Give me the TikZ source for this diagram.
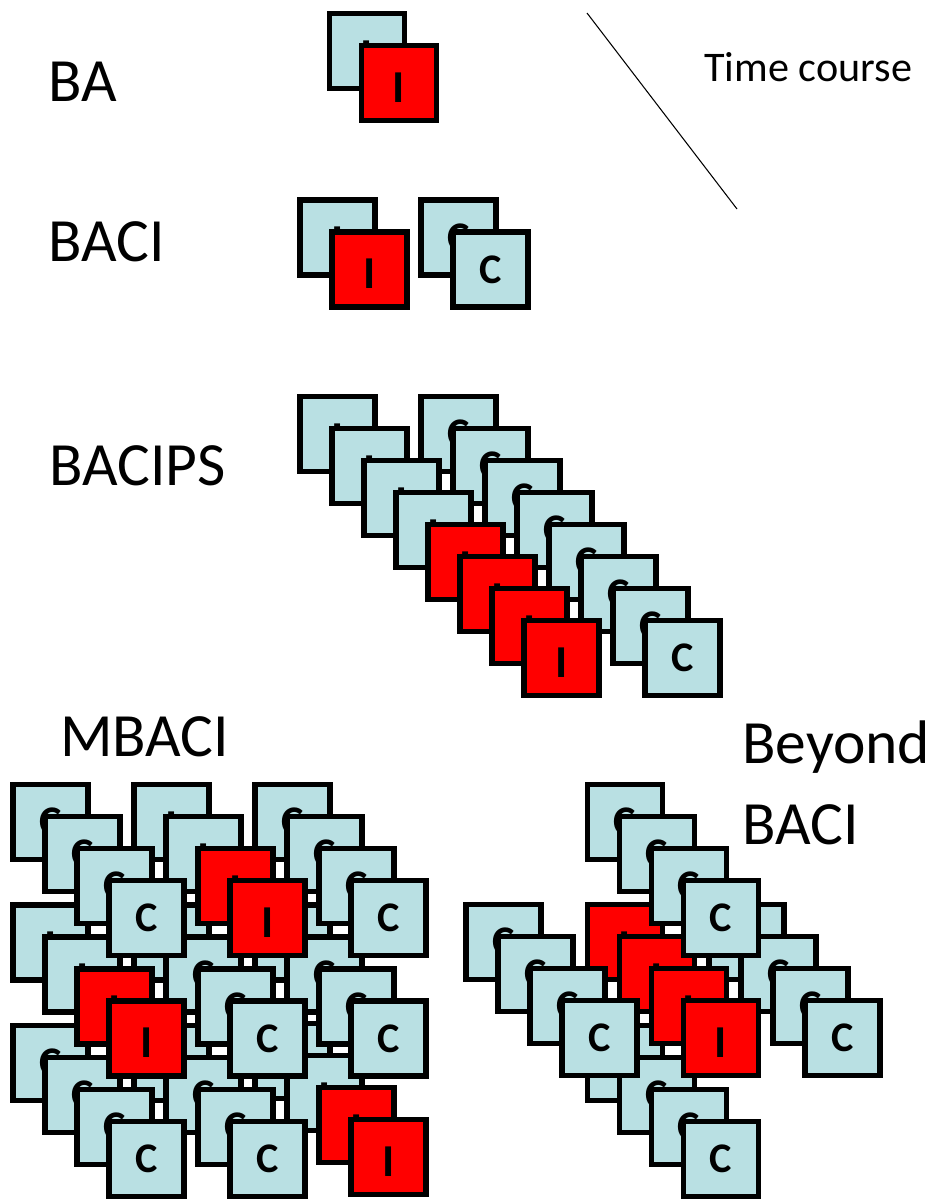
\documentclass[tikz,border=0pt]{standalone}
\usepackage{fontspec}
\setmainfont{Carlito}
\usetikzlibrary{calc}

\definecolor{siteblue}{RGB}{185,224,227}
\definecolor{impred}{RGB}{255,0,0}

\tikzset{
  site/.style={draw, line width=3pt, minimum size=1.5cm, inner sep=0pt, lab #1},
  lab C/.style={font=\fontsize{24}{24}\selectfont\bfseries},
  lab I/.style={font=\fontsize{26}{26}\selectfont\bfseries, text height=22pt, text depth=0pt},
  title/.style={anchor=base west, inner sep=0pt, font=\fontsize{35}{46}\selectfont},
}

% one stack of sites: name, centre of first square, squares, squares before impact, letter
\newcommand{\sitestack}[6]{%
  \foreach \k in {1,...,#4}{
    \ifnum\k>#5 \def\sitefill{impred}\else\def\sitefill{siteblue}\fi
    \node[site=#6, fill=\sitefill] (#1\k) at (#2+32*\k-32, #3+32*\k-32) {#6};
  }}

\begin{document}
\begin{tikzpicture}[x=0.02cm, y=-0.02cm]
\useasboundingbox (0,0) rectangle (933,1203);

\node[title] (ba) at (48,101.7) {BA};
\node[title] (baci) at (48,261) {BACI};
\node[title] (bacips) at (49,485) {BACIPS};
\node[title] (mbaci) at (60,756.7) {MBACI};
\node[title, align=left] (beyond) at (742,844) {Beyond\\BACI};
\node[anchor=base west, inner sep=0pt, font=\fontsize{24}{28}\selectfont] (time) at (704,81.5) {Time course};

%time axis
\coordinate (t0) at (587,13);
\coordinate (t1) at (737,209);
\draw[line width=0.6pt] (t0) -- (t1);

%BA
\sitestack{ba}{367}{51}{2}{1}{I}

%BACI
\sitestack{baci-c}{458.5}{237.5}{2}{2}{C}
\sitestack{baci-i}{337.5}{237.5}{2}{1}{I}

%BACIPS
\sitestack{bacips-c}{458.5}{434}{8}{8}{C}
\sitestack{bacips-i}{337.5}{434}{8}{4}{I}

%MBACI, back row first
\sitestack{m33-}{292.5}{1061}{4}{2}{I}
\sitestack{m32-}{171.5}{1063}{4}{4}{C}
\sitestack{m31-}{50.5}{1063}{4}{4}{C}
\sitestack{m23-}{292.5}{942.5}{4}{4}{C}
\sitestack{m22-}{171.5}{942.5}{4}{4}{C}
\sitestack{m21-}{50.5}{942.5}{4}{2}{I}
\sitestack{m13-}{292.5}{822}{4}{4}{C}
\sitestack{m12-}{171.5}{822}{4}{2}{I}
\sitestack{m11-}{50.5}{822}{4}{4}{C}

%beyond BACI
\sitestack{bb-s}{625}{1063}{4}{4}{C}
\sitestack{bb-e}{746.5}{942}{4}{4}{C}
\sitestack{bb-i}{625}{942}{4}{0}{I}
\sitestack{bb-w}{503.5}{942}{4}{4}{C}
\sitestack{bb-n}{625}{822}{4}{4}{C}
\end{tikzpicture}
\end{document}
